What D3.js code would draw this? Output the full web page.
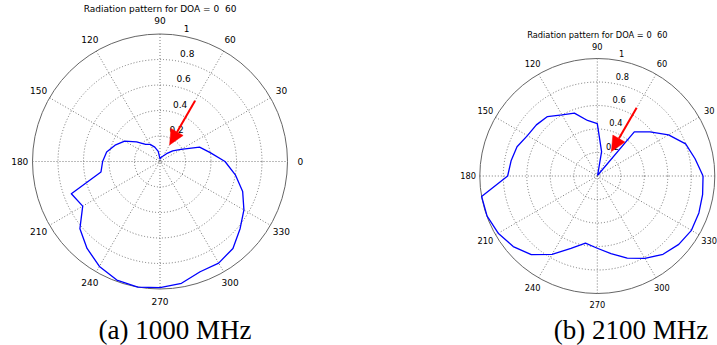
<!DOCTYPE html>
<html>
<head>
<meta charset="utf-8">
<script src="https://cdn.jsdelivr.net/npm/d3@7"></script>
<style>
  html, body { margin: 0; padding: 0; background: #fff; }
  svg { display: block; }
</style>
</head>
<body>
<svg id="chart" width="717" height="345"></svg>
<script>
// Pattern sampled every 10 degrees (0..360)
const angles = [0, 10, 20, 30, 40, 50, 60, 70, 80, 90, 100, 110, 120, 130, 140, 150, 160, 170, 180,
                190, 200, 210, 220, 230, 240, 250, 260, 270, 280, 290, 300, 310, 320, 330, 340, 350, 360];

// Normalised radiation pattern at 1000 MHz
const gain1000 = [0.51, 0.40, 0.33, 0.19, 0.13, 0.08, 0.05, 0.04, 0.03, 0.02, 0.08, 0.12, 0.155, 0.175, 0.24,
                  0.32, 0.375, 0.425, 0.45, 0.47, 0.74, 0.70, 0.82, 0.89, 0.95, 0.99, 1.00, 0.99, 0.97,
                  0.92, 0.92, 0.89, 0.82, 0.76, 0.69, 0.60, 0.51];

// Normalised radiation pattern at 2100 MHz
const gain2100 = [0.90, 0.845, 0.80, 0.70, 0.585, 0.49, 0.01, 0.01, 0.21, 0.445, 0.48, 0.57, 0.60, 0.66, 0.677,
                  0.687, 0.727, 0.745, 0.763, 1.00, 0.998, 0.974, 0.934, 0.874, 0.77, 0.655, 0.58, 0.615,
                  0.67, 0.744, 0.81, 0.87, 0.905, 0.925, 0.92, 0.91, 0.90];

// Polar grid ticks
const angleTicks = [0, 30, 60, 90, 120, 150, 180, 210, 240, 270, 300, 330];
const spokeAngles = [30, 60, 90, 120, 150, 180];
const ringTicks = [0.2, 0.4, 0.6, 0.8, 1];

// Direction of arrival marker
const doa = 60;
const arrowTail = [0.55, 0.67];
const arrowTip = [0.15, 0.24];

const titleText = "Radiation pattern for DOA = 0  60";
const captions = ["(a) 1000 MHz", "(b) 2100 MHz"];

const W = 717;

// Layout of the two polar panels
const panels = [
  { cx: 160, cy: 161.5, R: 127.5, k: 1.0, series: gain1000, tail: arrowTail[0], tip: arrowTip[0], caption: captions[0], capX: 175 },
  { cx: 597.3, cy: 176, R: 117.5, k: 0.92, series: gain2100, tail: arrowTail[1], tip: arrowTip[1], caption: captions[1], capX: 631 }
];

const svg = d3.select("#chart");
const rad = a => a * Math.PI / 180;

panels.forEach(p => {
  const g = svg.append("g").attr("transform", `translate(${p.cx},${p.cy})`);
  const r = d3.scaleLinear().domain([0, 1]).range([0, p.R]);
  const pt = (a, v) => [r(v) * Math.cos(rad(a)), -r(v) * Math.sin(rad(a))];
  const fs = 9 * p.k;

  // outer boundary
  g.append("circle").attr("r", r(1))
    .attr("fill", "none").attr("stroke", "#666").attr("stroke-width", 1);

  // dotted range rings
  g.selectAll("circle.ring").data(ringTicks.filter(v => v < 1)).join("circle")
    .attr("class", "ring").attr("r", d => r(d))
    .attr("fill", "none").attr("stroke", "#555").attr("stroke-width", 0.8)
    .attr("stroke-dasharray", "1,2");

  // dotted spokes through the centre
  g.selectAll("line.spoke").data(spokeAngles).join("line")
    .attr("class", "spoke")
    .attr("x1", d => pt(d, 1)[0]).attr("y1", d => pt(d, 1)[1])
    .attr("x2", d => pt(d + 180, 1)[0]).attr("y2", d => pt(d + 180, 1)[1])
    .attr("stroke", "#555").attr("stroke-width", 0.8)
    .attr("stroke-dasharray", "1,2");

  // angle labels (those falling past the page edge are left out)
  g.selectAll("text.ang").data(angleTicks.filter(d => p.cx + pt(d, 1.1)[0] + 4 < W)).join("text")
    .attr("class", "ang")
    .attr("x", d => pt(d, 1.1)[0]).attr("y", d => pt(d, 1.1)[1])
    .attr("text-anchor", "middle").attr("dominant-baseline", "central")
    .attr("font-family", "DejaVu Sans").attr("font-size", fs).attr("fill", "#000")
    .text(d => d);

  // ring labels along 82 degrees
  g.selectAll("text.rl").data(ringTicks).join("text")
    .attr("class", "rl")
    .attr("x", d => pt(82, d + 0.01)[0]).attr("y", d => pt(82, d + 0.01)[1] - 2 * p.k)
    .attr("text-anchor", "start")
    .style("white-space", "pre")
    .attr("font-family", "DejaVu Sans").attr("font-size", fs).attr("fill", "#000")
    .text(d => "  " + d);

  // title
  g.append("text")
    .attr("x", 0).attr("y", -1.2 * p.R)
    .attr("text-anchor", "middle").attr("dominant-baseline", "central")
    .style("white-space", "pre")
    .attr("font-family", "DejaVu Sans").attr("font-size", fs).attr("fill", "#000")
    .text(titleText);

  // pattern trace
  const data = angles.map((a, i) => ({ a, v: p.series[i] }));
  const line = d3.lineRadial()
    .angle(d => rad(90 - d.a))
    .radius(d => r(d.v));
  g.append("path").datum(data).attr("d", line)
    .attr("fill", "none").attr("stroke", "#0000ff").attr("stroke-width", 1.3)
    .attr("stroke-linejoin", "round");

  // DOA arrow
  const t0 = pt(doa, p.tail), t1 = pt(doa, p.tip);
  const dx = t1[0] - t0[0], dy = t1[1] - t0[1];
  const L = Math.hypot(dx, dy), ux = dx / L, uy = dy / L;
  const headLen = 15, headHalf = 7;
  const bx = t1[0] - ux * headLen, by = t1[1] - uy * headLen;
  g.append("line")
    .attr("x1", t0[0]).attr("y1", t0[1]).attr("x2", bx).attr("y2", by)
    .attr("stroke", "#ff0000").attr("stroke-width", 2);
  g.append("path")
    .attr("d", d3.line()([[t1[0], t1[1]], [bx - uy * headHalf, by + ux * headHalf], [bx + uy * headHalf, by - ux * headHalf]]) + "Z")
    .attr("fill", "#ff0000").attr("stroke", "#ff0000").attr("stroke-width", 0.5);

  // caption
  svg.append("text")
    .attr("x", p.capX).attr("y", 339)
    .attr("text-anchor", "middle")
    .attr("font-family", "Liberation Serif").attr("font-size", 27).attr("fill", "#000")
    .text(p.caption);
});
</script>
</body>
</html>
